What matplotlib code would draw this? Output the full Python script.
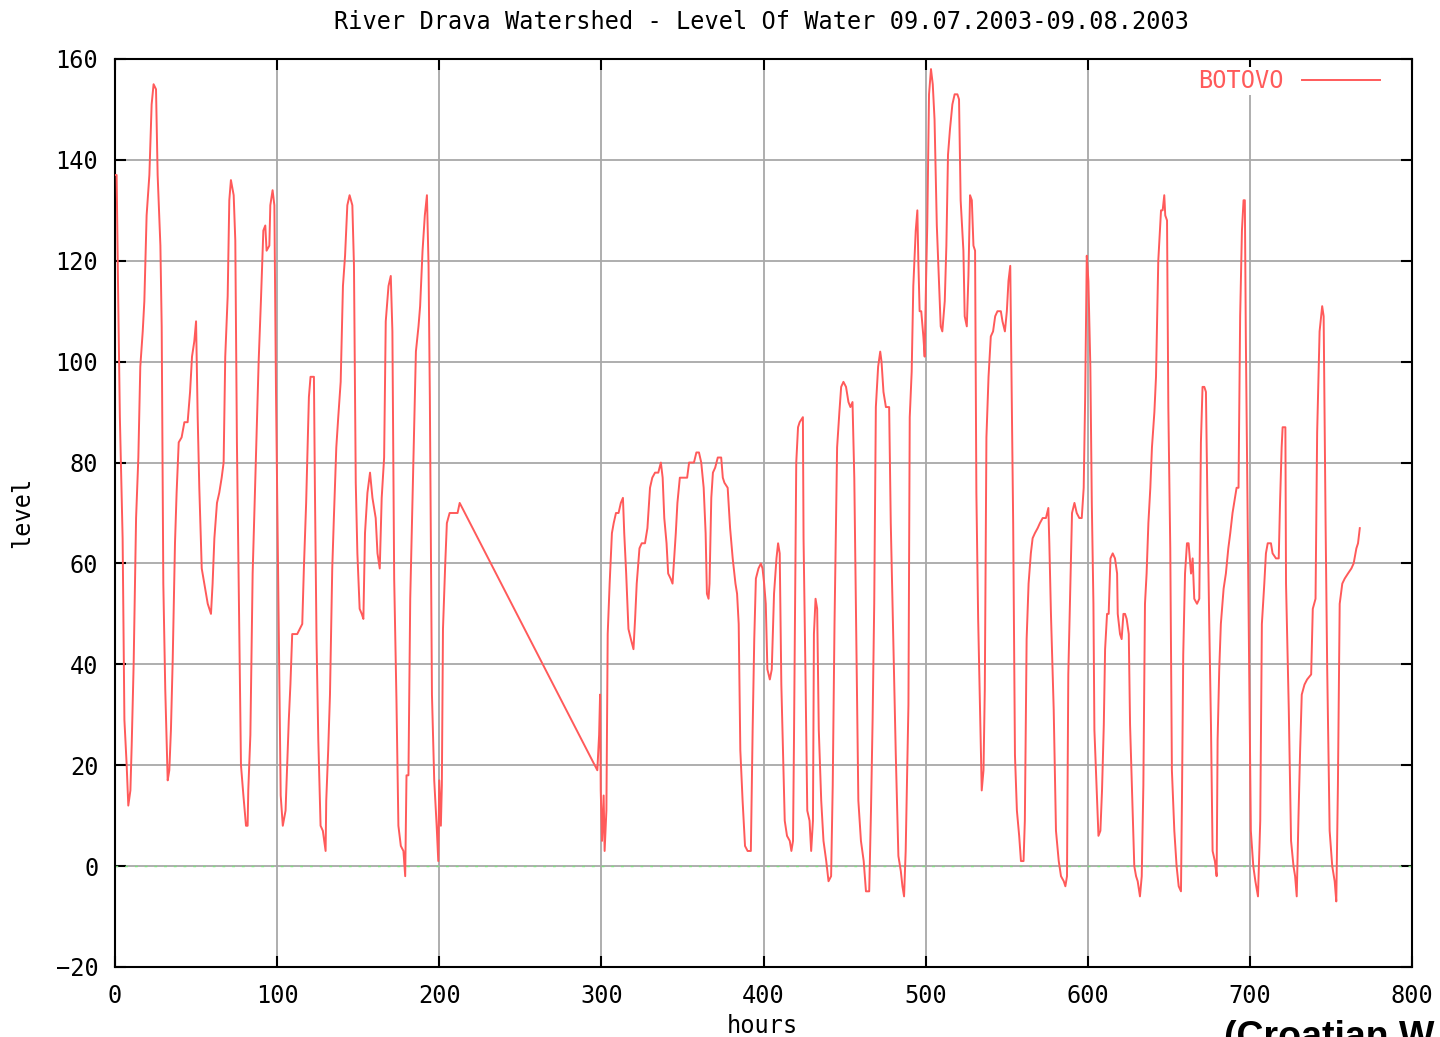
import matplotlib
matplotlib.use("Agg")
import matplotlib.pyplot as plt

title = "River Drava Watershed - Level Of Water 09.07.2003-09.08.2003"
series_name = "BOTOVO"
x_label = "hours"
y_label = "level"
x_ticks = [0, 100, 200, 300, 400, 500, 600, 700, 800]
y_ticks = [-20, 0, 20, 40, 60, 80, 100, 120, 140, 160]
footer = "(Croatian W"

hours = [
    0, 1, 2, 3, 4.7, 5.8, 7.2, 8.2, 9.5, 10.3, 11.5, 13, 14.4, 15.6, 17.1, 18.1, 19.5, 21.2, 22.6, 23.8,
    25.3, 26.3, 28, 28.8, 29.8, 31, 32.5, 33.5, 34.5, 35.6, 37, 38, 39.3, 41.1, 42.8, 44.8, 46.3, 47.5, 48.9, 50,
    51, 52, 53.5, 55.1, 57.2, 59.2, 60.2, 61.3, 62.9, 64.3, 65.8, 67, 68, 69.5, 70.5, 71.5, 73.2, 74.2, 75.2, 76.3,
    77.7, 79.2, 80.8, 81.8, 82.2, 83.5, 84.9, 86.3, 87.4, 88.6, 90, 91.5, 92.7, 93.5, 95.2, 95.8, 97.2, 98.3, 99.3, 100.3,
    101.2, 102.2, 103.5, 105.2, 106.2, 107.2, 108.2, 109.3, 112.4, 115.5, 116.5, 117.9, 119.6, 120.6, 122.7, 123.3, 124.3, 125.4, 126.8, 128.2,
    129.9, 130.3, 131.5, 132.6, 134, 135, 136.5, 137.7, 139.2, 140.6, 141.9, 143.3, 144.7, 146.4, 147.4, 148.5, 149.5, 150.9, 152.2, 153.2,
    154.2, 155.7, 157.3, 158.8, 160.8, 161.9, 163.3, 164.5, 166, 167, 168.7, 170.1, 171.1, 172.2, 173.6, 174.8, 176.3, 177.9, 179, 179.8,
    181, 182.1, 183.1, 184.1, 185.6, 187.2, 188.2, 189.7, 191.1, 192.4, 193.4, 194.2, 195.5, 196.9, 198.4, 199.4, 200, 201, 201.6, 202.3,
    203.7, 204.7, 206.4, 211.3, 212.6,
    297.5, 298.6, 299.2, 299.6, 300.4, 301.4, 302, 303.1, 303.9, 305.1, 306.5, 307.6, 309, 310.6, 312, 313.3, 314.1, 315.3,
    316.7, 318.2, 319.8, 320.8, 321.8, 323.5, 324.9, 326.9, 328.4, 330, 331.4, 333.1, 335.1, 336.7, 337.8, 338.8, 340.2, 341.2, 342.7, 343.9,
    344.7, 345.9, 346.9, 348.4, 352.9, 354.1, 357.1, 358.6, 360.2, 361.6, 363.1, 364.3, 365.1, 366.1, 366.7, 367.8, 368.8, 370.2, 371.8, 373.9,
    374.9, 375.9, 377.9, 379.4, 381, 382.7, 383.7, 384.7, 385.7, 387.1, 388.6, 390.2, 392.2, 393.3, 394.3, 395.3, 396.9, 398.4, 399.4, 400.4,
    401.4, 402.4, 403.9, 405.1, 406.5, 408, 409, 410, 411, 412.1, 413.1, 414.5, 416.2, 417.2, 418.2, 418.8, 420.2, 421.3, 422.3, 424.3,
    424.7, 425.8, 427, 428.4, 429.4, 430.5, 431.1, 432.1, 433.1, 434.1, 435.6, 437, 438.7, 440.1, 441.7, 442.7, 443.8, 445.4, 446.8, 447.9,
    449.3, 450.9, 452.4, 453.6, 454.9, 456, 457, 458.5, 460.1, 461.8, 463.2, 465.2, 466.3, 467.3, 468.3, 469.3, 470.7, 472, 472.8, 474,
    475.5, 477.5, 478.5, 480.2, 481.6, 483.2, 484.7, 485.7, 486.7, 487.7, 489.4, 490.2, 491.4, 492.4, 493.9, 494.9, 495.5, 496.3, 497.3, 498.6,
    499.4, 500.2, 501, 502.1, 503.3, 504.4, 505.5, 506.9, 508, 509.3, 510.3, 511.8, 512.8, 513.8, 515, 516.5, 517.9, 519.6, 520.6, 521.6,
    523.3, 524.1, 525.4, 526.4, 527.4, 528.5, 529.5, 530.5, 531.3, 532.4, 533.6, 534.6, 535.7, 536.5, 537.5, 538.8, 540.2, 541.6, 542.9, 544.3,
    546.4, 547.4, 548.9, 550.1, 551.1, 552.2, 553, 554, 555.1, 556.3, 557.7, 558.8, 560.4, 561.2, 562.3, 563.5, 564.9, 566, 567.4, 569.1,
    570.5, 572.2, 574.2, 575.7, 576.3, 577.3, 579, 580.4, 582.1, 583.5, 585.2, 586.2, 587.2, 588, 589.3, 590.3, 591.8, 593.2, 594.8, 596.3,
    597.5, 598.4, 599.4, 600.4, 601.6, 602.5, 603.5, 604.1, 605.5, 606.6, 607.8, 608.8, 609.9, 610.7, 611.9, 612.9, 614, 615.4, 616.8, 618.1,
    618.5, 619.9, 620.9, 622, 623, 624, 625.3, 626.1, 627.3, 628.7, 629.8, 630.8, 632.2, 633.3, 634.3, 635.3, 636.3, 637.4, 638.6, 639.6,
    641.1, 642.1, 643.5, 645.2, 646.2, 647.2, 647.8, 648.9, 649.7, 650.9, 651.9, 653.4, 654.8, 656.1, 657.5, 658.1, 658.9, 660, 661.2, 662.2,
    663.7, 664.7, 665.7, 667.4, 668.8, 669.8, 670.8, 671.9, 672.9, 673.9, 674.9, 676, 677, 678.4, 679.5, 680.1, 681.1, 682.1, 683.8, 685.2,
    686.7, 687.9, 689.3, 690.3, 691.8, 693, 694, 695.1, 696.1, 696.9, 697.5, 698.6, 699.6, 700.6, 702.1, 703.4, 705, 706.4, 707.4, 708.9,
    709.9, 711, 713, 714, 716.1, 717.8, 718.6, 719.6, 720.2, 721.9, 722.3, 724, 725.4, 726.9, 727.9, 728.9, 730, 731, 732, 733.7,
    735.3, 737.8, 738.8, 740.5, 741.5, 743, 744.6, 745.5, 746.7, 747.7, 749.2, 750.8, 752.3, 753.3, 754.3, 755.4, 757, 758.5, 760.5, 762.6,
    764, 765.7, 766.7, 767.8,
]

levels = [
    137, 137, 112, 89, 65, 29, 20, 12, 15, 24, 40, 69, 81, 99, 106, 112, 129, 137, 151, 155,
    154, 137, 123, 107, 56, 35, 17, 19, 27, 41, 64, 74, 84, 85, 88, 88, 94, 101, 104, 108,
    89, 75, 59, 56, 52, 50, 56, 65, 72, 74, 77, 80, 101, 113, 132, 136, 133, 124, 84, 56,
    20, 14, 8, 8, 15, 26, 58, 74, 86, 100, 112, 126, 127, 122, 123, 131, 134, 131, 94, 66,
    41, 14, 8, 11, 20, 29, 36, 46, 46, 48, 59, 72, 93, 97, 97, 75, 45, 25, 8, 7,
    3, 13, 23, 34, 59, 69, 83, 89, 96, 115, 121, 131, 133, 131, 119, 76, 62, 51, 50, 49,
    66, 74, 78, 73, 69, 62, 59, 73, 81, 108, 115, 117, 106, 57, 33, 8, 4, 3, -2, 18,
    18, 53, 67, 81, 102, 107, 111, 122, 129, 133, 119, 93, 34, 17, 8, 1, 17, 8, 16, 47,
    60, 68, 70, 70, 72,
    19, 26, 34, 15, 5, 14, 3, 11, 46, 56, 66, 68, 70, 70, 72, 73, 66, 58,
    47, 45, 43, 49, 56, 63, 64, 64, 67, 75, 77, 78, 78, 80, 77, 69, 64, 58, 57, 56,
    60, 66, 72, 77, 77, 80, 80, 82, 82, 80, 75, 66, 54, 53, 56, 73, 78, 79, 81, 81,
    77, 76, 75, 67, 61, 56, 54, 48, 23, 13, 4, 3, 3, 27, 45, 57, 59, 60, 59, 56,
    52, 39, 37, 39, 54, 61, 64, 62, 36, 22, 9, 6, 5, 3, 5, 25, 80, 87, 88, 89,
    65, 40, 11, 9, 3, 9, 46, 53, 51, 27, 13, 5, 1, -3, -2, 16, 48, 83, 90, 95,
    96, 95, 92, 91, 92, 77, 52, 13, 5, 1, -5, -5, 11, 29, 52, 91, 99, 102, 100, 94,
    91, 91, 68, 43, 22, 2, -1, -4, -6, 3, 32, 89, 98, 115, 126, 130, 120, 110, 110, 105,
    101, 115, 127, 153, 158, 155, 148, 127, 118, 107, 106, 112, 123, 141, 146, 151, 153, 153, 152, 132,
    122, 109, 107, 117, 133, 132, 123, 122, 74, 49, 30, 15, 19, 35, 85, 97, 105, 106, 109, 110,
    110, 108, 106, 110, 116, 119, 97, 68, 22, 11, 6, 1, 1, 9, 45, 56, 62, 65, 66, 67,
    68, 69, 69, 71, 64, 50, 31, 7, 1, -2, -3, -4, -2, 38, 56, 70, 72, 70, 69, 69,
    75, 93, 121, 116, 99, 72, 52, 27, 15, 6, 7, 15, 28, 43, 50, 50, 61, 62, 61, 58,
    50, 46, 45, 50, 50, 49, 46, 28, 15, 0, -2, -3, -6, -2, 16, 52, 58, 68, 75, 83,
    90, 97, 120, 130, 130, 133, 129, 128, 91, 63, 19, 7, 0, -4, -5, 13, 42, 58, 64, 64,
    58, 61, 53, 52, 53, 84, 95, 95, 94, 70, 49, 28, 3, 1, -2, 25, 39, 48, 55, 58,
    63, 66, 70, 72, 75, 75, 109, 126, 132, 132, 105, 69, 38, 7, 0, -3, -6, 9, 48, 56,
    62, 64, 64, 62, 61, 61, 72, 83, 87, 87, 56, 31, 5, 0, -2, -6, 10, 23, 34, 36,
    37, 38, 51, 53, 86, 106, 111, 109, 68, 39, 7, 0, -3, -7, 16, 52, 56, 57, 58, 59,
    60, 63, 64, 67,
]

mono = ["DejaVu Sans Mono"]
fs = 17
red = "#ff5a5a"

fig = plt.figure(figsize=(14.4, 10.37), dpi=100)
ax = fig.add_axes([115 / 1440, 1 - 967 / 1037, (1412 - 115) / 1440, (967 - 59) / 1037])

ax.set_xlim(0, 800)
ax.set_ylim(-20, 160)
ax.set_xticks(x_ticks)
ax.set_yticks(y_ticks)
ax.grid(True, color="#a8a8a8", linewidth=1.3)
ax.set_axisbelow(True)
ax.axhline(0, color="#7ee07e", linewidth=1.0, linestyle=(0, (2, 5)), zorder=1.5)

ax.plot(hours, levels, color=red, linewidth=1.4, label=series_name, zorder=3)

for sp in ax.spines.values():
    sp.set_linewidth(1.5)
    sp.set_color("black")
ax.tick_params(direction="in", length=8, width=1.5, top=True, right=True,
               labelsize=fs, pad=12)
for lab in ax.get_xticklabels() + ax.get_yticklabels():
    lab.set_family(mono)

leg = ax.legend(loc="center right", bbox_to_anchor=(1382 / 1440, 1 - 81 / 1037),
                bbox_transform=fig.transFigure, frameon=True, fancybox=False,
                facecolor="white", edgecolor="none", framealpha=1,
                prop={"family": mono, "size": fs}, handlelength=3.3,
                handletextpad=0.75, markerfirst=False, borderpad=0.1,
                borderaxespad=0)
for t in leg.get_texts():
    t.set_color(red)

fig.text(761 / 1440, 1 - 22 / 1037, title, ha="center", va="center",
         family=mono, fontsize=fs)
fig.text(762 / 1440, 1 - 1026 / 1037, x_label, ha="center", va="center",
         family=mono, fontsize=fs)
fig.text(22 / 1440, 1 - 512 / 1037, y_label, ha="center", va="center",
         rotation=90, family=mono, fontsize=fs)
fig.text(1224 / 1440, 1 - 1020 / 1037, footer, ha="left", va="top",
         family=["Liberation Sans"], fontweight="bold", fontsize=27)

fig.savefig("out.png", dpi=100)
